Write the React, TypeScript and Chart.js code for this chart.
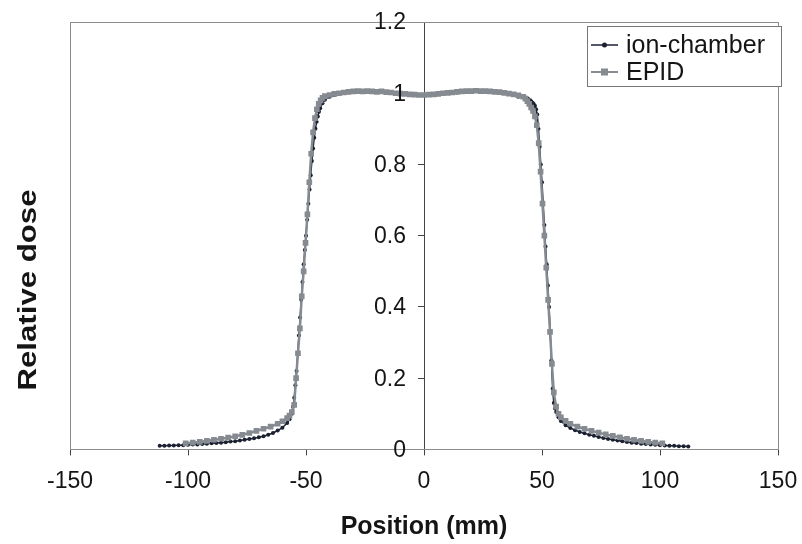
import React, { useEffect, useRef } from "react";
import { Chart, registerables } from "chart.js";

Chart.register(...registerables);

// ---- Data ----
const seriesNames = ["ion-chamber", "EPID"];
const xTitle = "Position (mm)";
const yTitle = "Relative dose";
const xTickValues = [-150, -100, -50, 0, 50, 100, 150];
const yTickValues = [0, 0.2, 0.4, 0.6, 0.8, 1, 1.2];
const yTickLabels = ["0", "0.2", "0.4", "0.6", "0.8", "1", "1.2"];

// ion-chamber profile
const ionX = [
  -112, -110, -108, -106, -104, -102, -100, -98, -96, -94, -92, -90, -88, -86, -84, -82, -80, -78, -76, -74, -72, -70, -68, -66, -64, -62, -60, -58, -57, -56,
  -55.5, -55, -54.5, -54, -53.5, -53, -52.5, -52, -51.5, -51, -50.5, -50, -49.5, -49, -48.5, -48, -47.5, -47, -46.5, -46, -45.5, -45, -44.5, -44, -43, -42,
  -40, -38, -35, -32, -29, -26, -23, -20, -17, -14, -11, -8, -5, -2, 0, 2, 5, 8, 11, 14, 17, 20, 23, 26, 29, 32, 35, 38, 40,
  42, 43, 44, 45, 45.5, 46, 46.5, 47, 47.5, 48, 48.5, 49, 49.5, 50, 50.5, 51, 51.5, 52, 52.5, 53, 53.5, 54, 54.5, 55, 55.5, 56, 57, 58,
  60, 62, 64, 66, 68, 70, 72, 74, 76, 78, 80, 82, 84, 86, 88, 90, 92, 94, 96, 98, 100, 102, 104, 106, 108, 110, 112,
];
const ionY = [
  0.010, 0.010, 0.011, 0.011, 0.012, 0.012, 0.013, 0.014, 0.014, 0.015, 0.016, 0.017, 0.018, 0.019, 0.020, 0.022, 0.023, 0.025, 0.027, 0.029, 0.031, 0.034, 0.037, 0.041, 0.046, 0.053, 0.061, 0.074, 0.085, 0.100,
  0.12, 0.145, 0.18, 0.22, 0.27, 0.32, 0.37, 0.42, 0.47, 0.52, 0.56, 0.60, 0.645, 0.69, 0.73, 0.77, 0.81, 0.845, 0.875, 0.9, 0.92, 0.935, 0.948, 0.958, 0.972, 0.982,
  0.99, 0.995, 1.0, 1.003, 1.005, 1.005, 1.006, 1.005, 1.004, 1.002, 1.0, 0.998, 0.996, 0.995, 0.995, 0.995, 0.996, 0.998, 1.0, 1.002, 1.004, 1.005, 1.006, 1.006, 1.005, 1.003, 1.0, 0.995, 0.99,
  0.99, 0.988, 0.985, 0.98, 0.977, 0.973, 0.97, 0.965, 0.955, 0.94, 0.9, 0.85, 0.8, 0.75, 0.69, 0.63, 0.57, 0.52, 0.46, 0.40, 0.33, 0.25, 0.17, 0.13, 0.115, 0.105, 0.09, 0.08,
  0.068, 0.060, 0.054, 0.049, 0.045, 0.041, 0.038, 0.035, 0.032, 0.029, 0.027, 0.025, 0.023, 0.021, 0.019, 0.018, 0.016, 0.015, 0.014, 0.013, 0.012, 0.011, 0.010, 0.010, 0.009, 0.009, 0.008,
];

// EPID profile
const epidX = [
  -101, -98, -95, -92, -89, -86, -83, -80, -77, -74, -71, -68, -65, -62, -60, -58, -57, -56, -55,
  -54.2, -53.4, -52.6, -51.8, -51, -50.2, -49.4, -48.6, -47.8, -47, -46.2, -45.4, -44.6, -43.8, -43, -42,
  -40, -38, -36, -34, -32, -30, -28, -26, -24, -22, -20, -18, -16, -14, -12, -10, -8, -6, -4, -2,
  0, 2, 4, 6, 8, 10, 12, 14, 16, 18, 20, 22, 24, 26, 28, 30, 32, 34, 36, 38, 40,
  42, 43, 43.8, 44.6, 45.4, 46.2, 47, 47.8, 48.6, 49.4, 50.2, 51, 51.8, 52.6, 53.4, 54.2, 55, 56, 57, 58,
  60, 62, 65, 68, 71, 74, 77, 80, 83, 86, 89, 92, 95, 98, 101,
];
const epidY = [
  0.017, 0.019, 0.021, 0.024, 0.027, 0.030, 0.033, 0.037, 0.041, 0.046, 0.052, 0.058, 0.064, 0.072, 0.079, 0.088, 0.095, 0.105, 0.125,
  0.2, 0.27, 0.34, 0.43, 0.5, 0.58, 0.66, 0.75, 0.83, 0.89, 0.93, 0.955, 0.97, 0.98, 0.987, 0.992,
  0.995, 0.998, 1.0, 1.002, 1.004, 1.005, 1.006, 1.005, 1.006, 1.005, 1.004, 1.005, 1.003, 1.002, 1.0, 0.999, 0.998, 0.997, 0.996, 0.995,
  0.995, 0.996, 0.997, 0.998, 1.0, 1.001, 1.002, 1.004, 1.005, 1.006, 1.006, 1.007, 1.006, 1.006, 1.005, 1.004, 1.003, 1.001, 0.999, 0.997, 0.994,
  0.99, 0.985, 0.978, 0.97, 0.96, 0.95, 0.935, 0.91, 0.86, 0.78, 0.69, 0.6, 0.51, 0.42, 0.33, 0.24, 0.16, 0.12, 0.1, 0.09,
  0.08, 0.072, 0.064, 0.058, 0.052, 0.047, 0.042, 0.038, 0.034, 0.030, 0.027, 0.024, 0.021, 0.019, 0.017,
];

const FONT = "'Liberation Sans', Arial, Helvetica, sans-serif";
const ION_COLOR = "#1b2130";
const EPID_COLOR = "#868b92";
const AXIS_COLOR = "#444444";
const FRAME_COLOR = "#8c8c8c";
const TEXT_COLOR = "#151515";

export default function App() {
  const ref = useRef<HTMLCanvasElement>(null);

  useEffect(() => {
    const canvas = ref.current;
    if (!canvas) return;

    const decor = {
      id: "decor",
      beforeDatasetsDraw(chart: any) {
        const { ctx, chartArea } = chart;
        ctx.save();
        ctx.strokeStyle = FRAME_COLOR;
        ctx.lineWidth = 1;
        ctx.strokeRect(
          Math.round(chartArea.left) + 0.5,
          Math.round(chartArea.top) + 0.5,
          Math.round(chartArea.right - chartArea.left),
          Math.round(chartArea.bottom - chartArea.top)
        );
        ctx.restore();
      },
      afterDraw(chart: any) {
        const { ctx, chartArea, scales } = chart;
        ctx.save();

        // y tick labels, left of the centred axis
        const axisX = scales.x.getPixelForValue(0);
        ctx.fillStyle = TEXT_COLOR;
        ctx.font = `23px ${FONT}`;
        ctx.textAlign = "right";
        ctx.textBaseline = "middle";
        yTickValues.forEach((v, i) => {
          ctx.fillText(yTickLabels[i], axisX - 18, scales.y.getPixelForValue(v) + 1);
        });

        // axis titles
        ctx.font = `bold 25px ${FONT}`;
        ctx.textAlign = "center";
        ctx.textBaseline = "middle";
        ctx.fillText(xTitle, (chartArea.left + chartArea.right) / 2, 527);

        ctx.save();
        ctx.translate(29, 290);
        ctx.rotate(-Math.PI / 2);
        ctx.scale(1.2, 1);
        ctx.font = `bold 26px ${FONT}`;
        ctx.fillText(yTitle, 0, 0);
        ctx.restore();

        // legend
        const lx = 587;
        const ly = 26;
        const lw = 194;
        const lh = 60;
        ctx.fillStyle = "#ffffff";
        ctx.fillRect(lx, ly, lw, lh);
        ctx.strokeStyle = "#777777";
        ctx.lineWidth = 1;
        ctx.strokeRect(lx + 0.5, ly + 0.5, lw, lh);

        const rows = [ly + 19, ly + 46];
        const colors = [ION_COLOR, EPID_COLOR];
        for (let i = 0; i < seriesNames.length; i++) {
          const y = rows[i];
          ctx.strokeStyle = colors[i];
          ctx.lineWidth = i === 0 ? 1.5 : 2;
          ctx.beginPath();
          ctx.moveTo(591, y);
          ctx.lineTo(618, y);
          ctx.stroke();
          ctx.fillStyle = colors[i];
          if (i === 0) {
            ctx.beginPath();
            ctx.arc(604.5, y, 2.5, 0, Math.PI * 2);
            ctx.fill();
          } else {
            ctx.fillRect(601, y - 3.5, 7, 7);
          }
          ctx.fillStyle = TEXT_COLOR;
          ctx.font = `25px ${FONT}`;
          ctx.textAlign = "left";
          ctx.textBaseline = "middle";
          ctx.fillText(seriesNames[i], 626, y + 1);
        }
        ctx.restore();
      },
    };

    const chart = new Chart(canvas, {
      type: "scatter",
      data: {
        datasets: [
          {
            label: seriesNames[0],
            data: ionX.map((x, i) => ({ x, y: ionY[i] })),
            showLine: true,
            borderColor: ION_COLOR,
            backgroundColor: ION_COLOR,
            borderWidth: 1.5,
            pointRadius: 2,
            pointStyle: "circle",
            pointBorderWidth: 0,
            order: 2,
          },
          {
            label: seriesNames[1],
            data: epidX.map((x, i) => ({ x, y: epidY[i] })),
            showLine: true,
            borderColor: EPID_COLOR,
            backgroundColor: EPID_COLOR,
            borderWidth: 2.5,
            pointRadius: 4,
            pointStyle: "rect",
            pointBorderWidth: 0,
            order: 1,
          },
        ],
      },
      options: {
        animation: false,
        responsive: false,
        maintainAspectRatio: false,
        layout: { padding: { left: 70, right: 24, top: 22, bottom: 37 } },
        plugins: {
          legend: { display: false },
          tooltip: { enabled: false },
        },
        scales: {
          x: {
            type: "linear",
            position: "bottom",
            min: -150,
            max: 150,
            afterBuildTicks: (s: any) => {
              s.ticks = xTickValues.map((v) => ({ value: v }));
            },
            afterFit: (s: any) => {
              s.paddingLeft = 0;
              s.paddingRight = 0;
            },
            ticks: {
              font: { family: FONT, size: 23 },
              color: TEXT_COLOR,
              padding: 12,
              maxRotation: 0,
              autoSkip: false,
            },
            grid: {
              drawOnChartArea: false,
              drawTicks: true,
              tickLength: 6,
              color: AXIS_COLOR,
              lineWidth: 1,
            },
            border: { display: true, color: AXIS_COLOR, width: 1 },
          },
          y: {
            type: "linear",
            position: { x: 0 } as any,
            min: 0,
            max: 1.2,
            afterBuildTicks: (s: any) => {
              s.ticks = yTickValues.map((v) => ({ value: v }));
            },
            ticks: { display: false },
            grid: {
              drawOnChartArea: false,
              drawTicks: true,
              tickLength: 6,
              color: AXIS_COLOR,
              lineWidth: 1,
            },
            border: { display: true, color: AXIS_COLOR, width: 1 },
          },
        },
      },
      plugins: [decor],
    });

    return () => chart.destroy();
  }, []);

  return (
    <div style={{ position: "absolute", left: 0, top: 0, width: 802, height: 544 }}>
      <canvas ref={ref} width={802} height={544} style={{ display: "block", width: 802, height: 544 }} />
    </div>
  );
}
